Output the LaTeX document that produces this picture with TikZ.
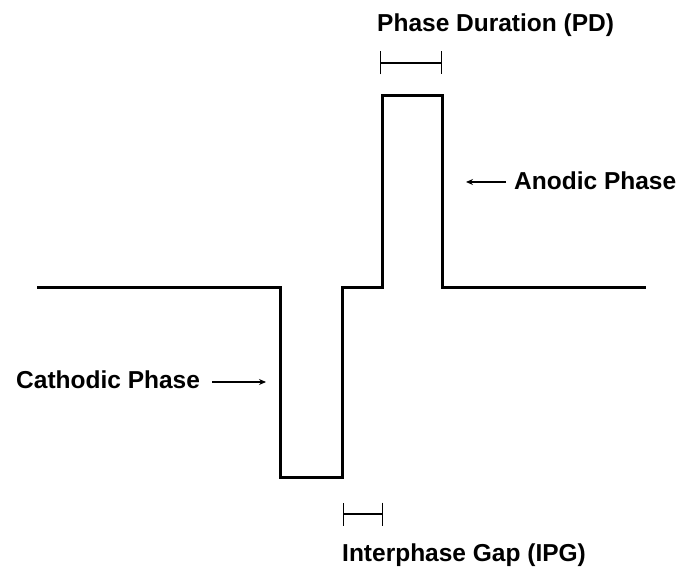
\documentclass[tikz,border=0pt]{standalone}
\usepackage{fontspec}
\setmainfont{Liberation Sans}
\usetikzlibrary{arrows.meta}
\begin{document}
\begin{tikzpicture}[x=1pt,y=-1pt,
  wave/.style={line width=3pt,line join=miter},
  lbl/.style={font=\fontsize{24.5}{28}\selectfont\bfseries,inner sep=0pt,anchor=base west},
  pointer/.style={line width=1.4pt,-{Stealth[length=7pt,width=6pt]}},
  span/.style={line width=1.4pt,{Bar[width=23pt,line width=1.4pt]}-{Bar[width=23pt,line width=1.4pt]}}]
\useasboundingbox (0,0) rectangle (691,572);
% waveform
\coordinate (w0) at (37,287);
\coordinate (w1) at (280,287);
\coordinate (w2) at (280,477);
\coordinate (w3) at (342,477);
\coordinate (w4) at (342,287);
\coordinate (w5) at (382,287);
\coordinate (w6) at (382,96);
\coordinate (w7) at (442,96);
\coordinate (w8) at (442,287);
\coordinate (w9) at (646,287);
\draw[wave] (w0) -- (w1) -- (w2) -- (w3) -- (w4) -- (w5) -- (w6) -- (w7) -- (w8) -- (w9);
% labels
\node[lbl] (pd) at (377,32) {Phase Duration (PD)};
\node[lbl] (an) at (514,190) {Anodic Phase};
\node[lbl] (ca) at (16,388) {Cathodic Phase};
\node[lbl] (ipg) at (342,561) {Interphase Gap (IPG)};
% brackets
\coordinate (pdl) at (380,63);
\coordinate (pdr) at (442,63);
\draw[span] (pdl) -- (pdr);
\coordinate (ipl) at (343,514);
\coordinate (ipr) at (383,514);
\draw[span] (ipl) -- (ipr);
% pointers
\coordinate (ana) at (466,182);
\coordinate (anb) at (506,182);
\draw[pointer] (anb) -- (ana);
\coordinate (caa) at (212,382);
\coordinate (cab) at (266,382);
\draw[pointer] (caa) -- (cab);
\end{tikzpicture}
\end{document}
